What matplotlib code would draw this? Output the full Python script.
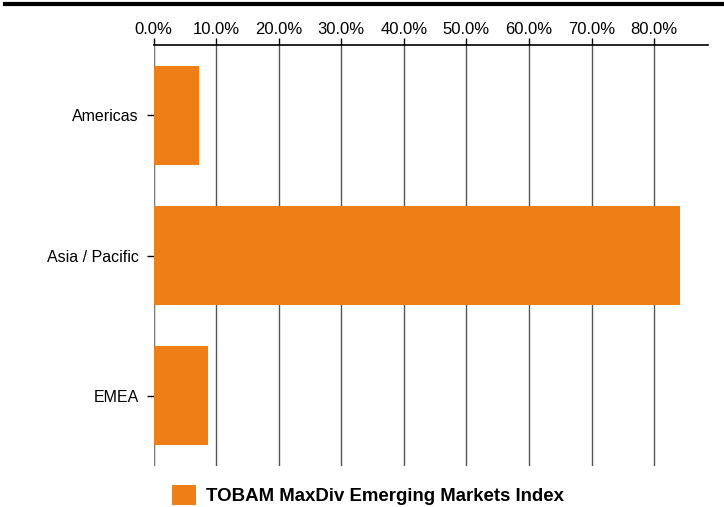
import matplotlib
matplotlib.use("Agg")
import matplotlib.pyplot as plt
from matplotlib.lines import Line2D
from matplotlib.patches import Patch
from matplotlib.ticker import FuncFormatter, MultipleLocator

categories = ["Americas", "Asia / Pacific", "EMEA"]
values = [7.3, 84.1, 8.7]
series_name = "TOBAM MaxDiv Emerging Markets Index"
bar_color = "#EE7F17"

plt.rcParams["font.family"] = ["Liberation Sans", "DejaVu Sans"]

fig = plt.figure(figsize=(7.24, 5.07), dpi=100)
W, H = 724, 507
ax = fig.add_axes([153.5 / W, 1 - 466 / H, (708 - 153.5) / W, (466 - 45) / H])

ypos = list(range(len(categories)))
ax.barh(ypos, values, height=0.705, color=bar_color, zorder=3)
ax.set_ylim(2.5, -0.5)
ax.set_xlim(0, 88.6)

ax.xaxis.set_major_locator(MultipleLocator(10))
ax.xaxis.set_major_formatter(FuncFormatter(lambda v, p: f"{v:.1f}%" if v <= 80.01 else ""))
ax.xaxis.tick_top()
ax.tick_params(axis="x", which="major", length=5, width=1, color="black", pad=1,
               labelsize=12)
ax.set_yticks(ypos)
ax.set_yticklabels(categories)
ax.tick_params(axis="y", length=5, width=1, color="black", pad=5.5, labelsize=11.5)

ax.grid(axis="x", color="#555555", linewidth=1, zorder=1)
ax.set_axisbelow(True)
for s in ["left", "right", "bottom"]:
    ax.spines[s].set_visible(False)
ax.spines["top"].set_color("black")
ax.spines["top"].set_linewidth(1.2)
ax.axvline(0, color="#7a7a7a", linewidth=1.5, zorder=2)

fig.add_artist(Line2D([5 / W, 1.0], [1 - 4 / H, 1 - 4 / H], color="black", linewidth=3))

handle = Patch(facecolor=bar_color, edgecolor="none")
leg = fig.legend([handle], [series_name], loc="center left",
                 bbox_to_anchor=(155 / W, 1 - 495 / H), frameon=False,
                 handlelength=1.3, handleheight=1.3, handletextpad=0.55,
                 prop={"weight": "bold", "size": 13.4})

fig.savefig("out.png", dpi=100)
